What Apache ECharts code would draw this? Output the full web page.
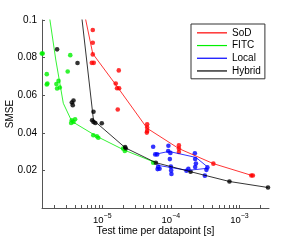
<!DOCTYPE html>
<html><head><meta charset="utf-8">
<script src="https://cdn.jsdelivr.net/npm/echarts@6/dist/echarts.min.js"></script>
<style>html,body{margin:0;padding:0;background:#fff}#c{width:300px;height:241px}</style>
</head><body><div id="c"></div>
<script>
// ---- data ----
const seriesNames = ['SoD', 'FITC', 'Local', 'Hybrid'];
const xTickLabels = [1e-5, 1e-4, 1e-3];
const yTickLabels = [0.02, 0.04, 0.06, 0.08, 0.1];

const sodTime = [7.26e-6,7.26e-6,7.26e-6,7.03e-6,7.51e-6,1.74e-5,1.57e-5,1.64e-5,1.76e-5,1.68e-5,4.51e-5,4.51e-5,4.51e-5,4.46e-5,1.31e-4,1.31e-4,1.31e-4,4.17e-4,1.49e-3,1.57e-3];
const sodSmse = [0.0947,0.0879,0.0817,0.0772,0.0772,0.0732,0.0662,0.0637,0.0637,0.0524,0.0445,0.0428,0.0410,0.0401,0.0333,0.0316,0.0298,0.0236,0.0173,0.0173];
const sodCurveTime = [5.19e-6,7.26e-6,1.63e-5,4.51e-5,1.31e-4,4.17e-4,1.52e-3];
const sodCurveSmse = [0.1077,0.0821,0.0648,0.0424,0.0316,0.0236,0.0173];

const fitcTime = [1.31e-6,1.35e-6,1.55e-6,1.58e-6,1.55e-6,2.30e-6,2.14e-6,2.19e-6,2.40e-6,3.41e-6,3.13e-6,3.59e-6,3.80e-6,3.51e-6,4.01e-6,7.39e-6,8.32e-6,8.74e-6,2.01e-5,2.13e-5,5.52e-5];
const fitcSmse = [0.0822,0.0822,0.0712,0.0662,0.0657,0.0676,0.0659,0.0636,0.0641,0.0813,0.0726,0.0467,0.0458,0.0452,0.0472,0.0387,0.0381,0.0374,0.0316,0.0303,0.0241];
const fitcCurveTime = [1.60e-6,2.10e-6,2.70e-6,3.59e-6,8.32e-6,2.06e-5,5.83e-5];
const fitcCurveSmse = [0.108,0.0787,0.0557,0.0461,0.0381,0.0309,0.0243];

const localTime = [5.52e-5,5.91e-5,6.31e-5,6.53e-5,6.40e-5,6.84e-5,9.21e-5,9.14e-5,9.84e-5,9.67e-5,1.0e-4,1.01e-4,1.02e-4,1.69e-4,1.80e-4,2.24e-4,2.26e-4,2.32e-4,2.26e-4,3.13e-4,3.30e-4,3.41e-4];
const localSmse = [0.0326,0.0285,0.0285,0.0220,0.0207,0.0209,0.0331,0.0303,0.0293,0.0260,0.0220,0.0200,0.0181,0.0198,0.0208,0.0291,0.0261,0.0237,0.0218,0.0172,0.0203,0.0216];
const localCurveUpperTime = [5.79e-5,9.35e-5,2.32e-4,3.36e-4];
const localCurveUpperSmse = [0.0285,0.0301,0.0269,0.0221];
const localCurveLowerTime = [6.45e-5,1.77e-4,3.36e-4];
const localCurveLowerSmse = [0.0227,0.0200,0.0211];

const hybridTime = [2.19e-6,4.35e-6,3.80e-6,3.59e-6,3.71e-6,7.44e-6,7.10e-6,7.44e-6,7.91e-6,9.83e-6,2.15e-5,2.20e-5,6.04e-5,1.94e-4,7.15e-4,2.61e-3];
const hybridSmse = [0.0844,0.0771,0.0572,0.0561,0.0547,0.0512,0.0467,0.0458,0.0452,0.0451,0.0324,0.0316,0.0241,0.0193,0.0141,0.0109];
const hybridCurveTime = [4.79e-6,7.44e-6,2.17e-5,6.04e-5,1.94e-4,7.15e-4,2.61e-3];
const hybridCurveSmse = [0.108,0.0467,0.0320,0.0241,0.0193,0.0141,0.0109];

const xMin = 1.32e-6, xMax = 2.7e-3;

// ---- build (x axis is log10 of time, drawn on a value axis) ----
const L = Math.log10;
const zip = (a, b) => a.map((v, i) => [L(v), b[i]]);
const colors = { SoD: '#ff0000', FITC: '#00f000', Local: '#0000ff', Hybrid: '#000000' };
const minorTicks = [];
for (let e = -6; e <= -3; e++) for (let k = 1; k <= 9; k++) {
  const lv = L(k * Math.pow(10, e));
  if (lv >= L(xMin) && lv <= L(xMax)) minorTicks.push(lv);
}

function lineSeries(name, t, s) {
  return { name, type: 'line', data: zip(t, s), symbol: 'none', showSymbol: false, clip: true,
    lineStyle: { color: colors[name], width: 0.8 }, itemStyle: { color: colors[name] }, z: 3, silent: true };
}
function dotSeries(name, t, s) {
  return { type: 'scatter', data: zip(t, s), symbol: 'circle', symbolSize: 4.6, clip: false,
    itemStyle: { color: colors[name] }, z: 2, silent: true };
}

const chart = echarts.init(document.getElementById('c'), null, { renderer: 'canvas' });
chart.setOption({
  animation: false,
  backgroundColor: '#fff',
  textStyle: { fontFamily: 'Liberation Sans, Arial, sans-serif' },
  grid: { left: 42, top: 20, right: 31, bottom: 33, containLabel: false, outerBoundsMode: 'none' },
  legend: {
    data: seriesNames.map(n => ({ name: n, icon: 'rect' })), orient: 'vertical', left: 191, top: 24,
    padding: [3, 4, 2, 6], itemGap: 1, itemWidth: 30, itemHeight: 1.2,
    borderColor: '#333', borderWidth: 1, backgroundColor: '#fff', borderRadius: 0,
    textStyle: { fontSize: 10, color: '#000', lineHeight: 11.7, fontFamily: 'Liberation Sans, Arial, sans-serif' }
  },
  xAxis: {
    type: 'value', min: L(xMin), max: L(xMax),
    name: 'Test time per datapoint [s]', nameLocation: 'middle', nameGap: 18, nameMoveOverlap: false,
    nameTextStyle: { fontSize: 10.3, color: '#000' },
    axisLine: { show: true, lineStyle: { color: '#555', width: 1 } },
    axisTick: { show: true, inside: true, length: 3, customValues: minorTicks, lineStyle: { color: '#555' } },
    axisLabel: {
      customValues: xTickLabels.map(L), margin: 5,
      formatter: v => '{b|10}{s|' + String(Math.round(v)).replace('-', '\u2212') + '}',
      rich: { b: { fontSize: 9.5, color: '#000' }, s: { fontSize: 7, color: '#000', padding: [0, 0, 7, 0] } }
    },
    splitLine: { show: false }
  },
  yAxis: {
    type: 'value', min: 0, max: 0.1, interval: 0.02,
    name: 'SMSE', nameLocation: 'middle', nameGap: 27, nameMoveOverlap: false,
    nameTextStyle: { fontSize: 10, color: '#000' },
    axisLine: { show: true, lineStyle: { color: '#555', width: 1 } },
    axisTick: { show: true, inside: true, length: 3, lineStyle: { color: '#555' } },
    axisLabel: { fontSize: 10, color: '#000', margin: 5,
      formatter: v => (yTickLabels.some(t => Math.abs(t - v) < 1e-9) ? String(+v.toFixed(2)) : '') },
    splitLine: { show: false }
  },
  series: [
    dotSeries('SoD', sodTime, sodSmse),
    dotSeries('FITC', fitcTime, fitcSmse),
    dotSeries('Local', localTime, localSmse),
    dotSeries('Hybrid', hybridTime, hybridSmse),
    lineSeries('SoD', sodCurveTime, sodCurveSmse),
    lineSeries('FITC', fitcCurveTime, fitcCurveSmse),
    lineSeries('Local', localCurveUpperTime, localCurveUpperSmse),
    lineSeries('Local', localCurveLowerTime, localCurveLowerSmse),
    lineSeries('Hybrid', hybridCurveTime, hybridCurveSmse)
  ]
});
</script></body></html>
